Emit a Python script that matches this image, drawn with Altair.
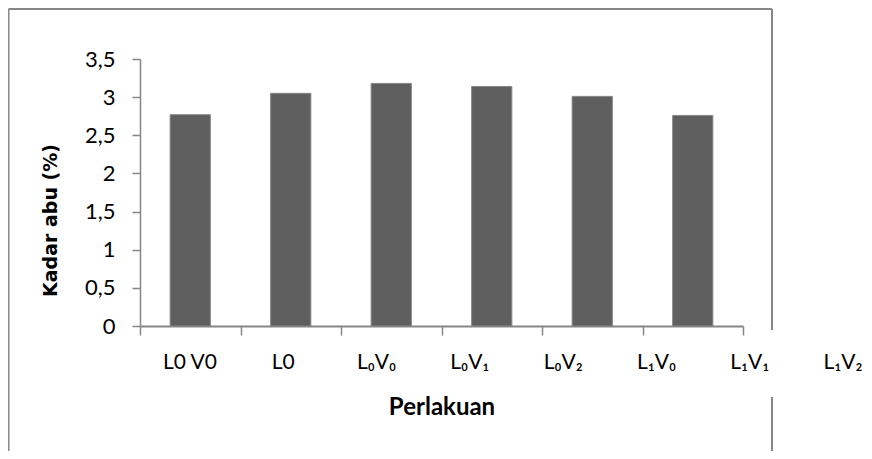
import altair as alt
import pandas as pd

# Bars (one value per bar, left to right)
bar_index = [1, 2, 3, 4, 5, 6]
ash_content = [2.77, 3.05, 3.18, 3.14, 3.01, 2.76]

# Category labels printed under the axis (as they appear in the figure)
tick_labels = ["L0 V0", "L0", "L\u2080V\u2080", "L\u2080V\u2081", "L\u2080V\u2082",
               "L\u2081V\u2080", "L\u2081V\u2081", "L\u2081V\u2082"]

y_ticks = [0, 0.5, 1, 1.5, 2, 2.5, 3, 3.5]

bars_df = pd.DataFrame({"idx": bar_index, "val": ash_content})
labels_df = pd.DataFrame({"label": tick_labels})
one = pd.DataFrame({"a": [0]})

W, H = 603, 267
AX = "#868686"
FONT = "Lato"

bars = alt.Chart(bars_df).mark_bar(color="#5f5f5f", stroke="#858585", strokeWidth=1,
                                   width=alt.RelativeBandSize(0.4)).encode(
    x=alt.X("idx:O", sort=None,
            scale=alt.Scale(paddingInner=0, paddingOuter=0),
            axis=alt.Axis(labels=False, tickBand="extent", ticks=True, tickSize=9,
                          tickColor=AX, tickWidth=1.5, domainColor=AX, domainWidth=2,
                          title="Perlakuan", titleFont=FONT, titleFontSize=24,
                          titleFontWeight="bold", titleColor="#000000", titlePadding=60)),
    y=alt.Y("val:Q", scale=alt.Scale(domain=[0, 3.5], nice=False),
            axis=alt.Axis(values=y_ticks, grid=False, tickSize=8, tickColor=AX, tickWidth=1.5,
                          domainColor=AX, domainWidth=1.5,
                          labelExpr="replace(format(datum.value, '~g'), '.', ',')",
                          labelFont=FONT, labelFontSize=22, labelColor="#000000", labelPadding=17,
                          title="Kadar abu (%)", titleFont="DejaVu Sans", titleFontSize=19,
                          titleFontWeight="bold", titleColor="#000000",
                          titleX=-90, titleY=161, titleAngle=270,
                          titleAlign="center", titleBaseline="middle")),
)

labels = alt.Chart(labels_df).mark_text(font=FONT, fontSize=21, color="#000000",
                                        baseline="middle").encode(
    x=alt.X("label:N", sort=None,
            scale=alt.Scale(type="point", range=[50, 703], padding=0), axis=None),
    y=alt.value(304),
    text="label:N",
)

FR = "#888888"
top_line = alt.Chart(one).mark_rule(color=FR, strokeWidth=2).encode(
    x=alt.value(-131.5), x2=alt.value(632), y=alt.value(-50))
left_line = alt.Chart(one).mark_rule(color=FR, strokeWidth=2).encode(
    x=alt.value(-131.5), y=alt.value(-50), y2=alt.value(400))
right_upper = alt.Chart(one).mark_rule(color=FR, strokeWidth=2).encode(
    x=alt.value(632), y=alt.value(-50), y2=alt.value(271))
right_lower = alt.Chart(one).mark_rule(color=FR, strokeWidth=2).encode(
    x=alt.value(632), y=alt.value(338), y2=alt.value(400))

chart = alt.layer(bars, labels, top_line, left_line, right_upper, right_lower).resolve_scale(
    x="independent"
).properties(
    width=W, height=H,
    background="white",
    autosize=alt.AutoSizeParams(type="none"),
    padding={"left": 132, "top": 51, "right": 121, "bottom": 125},
).configure_view(strokeWidth=0)

chart.save("out.html", embed_options={"renderer": "svg", "actions": False})
